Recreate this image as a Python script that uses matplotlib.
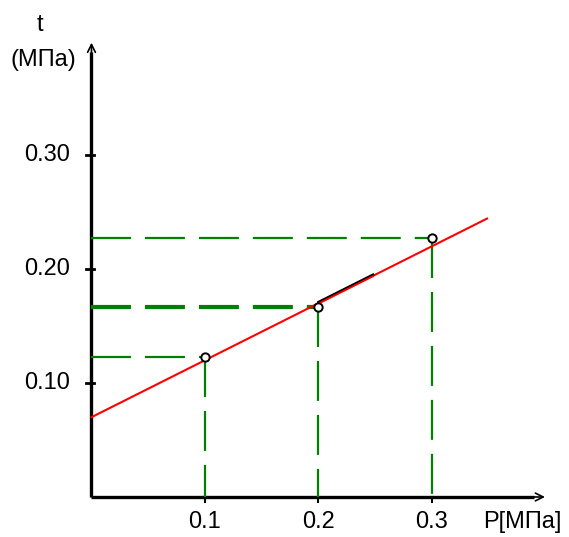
import numpy as np
import matplotlib
matplotlib.use('Agg')
import matplotlib.pyplot as plt

# данные
p_points = [0.1, 0.2, 0.3]
t_points = [0.123, 0.167, 0.227]
fit_b = 0.07
fit_k = 0.5
fit_p = [0.0, 0.3485]
black_p = [0.2, 0.248]
x_ticks = [0.1, 0.2, 0.3]
x_labels = ['0.1', '0.2', '0.3']
y_ticks = [0.10, 0.20, 0.30]
y_labels = ['0.10', '0.20', '0.30']
thick_idx = 1

GREEN = '#008000'
plt.rcParams['font.family'] = ['Liberation Sans', 'DejaVu Sans']

fig = plt.figure(figsize=(5.69, 5.37), dpi=100)
ax = fig.add_axes([0, 0, 1, 1])
ax.set_xlim(-0.0806, 0.4207)
ax.set_ylim(-0.0351, 0.436)
ax.axis('off')

# оси со стрелками
ax.plot([0, 0], [0, 0.39], color='black', lw=2.4, solid_capstyle='butt')
ax.plot([0, 0.39], [0, 0], color='black', lw=2.4, solid_capstyle='butt')
ax.annotate('', xy=(0, 0.401), xytext=(0, 0.37),
            arrowprops=dict(arrowstyle='->', color='black', lw=1.2, mutation_scale=14))
ax.annotate('', xy=(0.402, 0), xytext=(0.37, 0),
            arrowprops=dict(arrowstyle='->', color='black', lw=1.2, mutation_scale=14))

# штрихи
for yt, lab in zip(y_ticks, y_labels):
    ax.plot([-0.005, 0.002], [yt, yt], color='black', lw=2)
    ax.text(-0.019, yt, lab, ha='right', va='center', fontsize=17)
for xt, lab in zip(x_ticks, x_labels):
    ax.plot([xt, xt], [-0.004, 0], color='black', lw=1.5)
    ax.text(xt, -0.022, lab, ha='center', va='center', fontsize=17)

# пунктирные проекции
for i, (p, t) in enumerate(zip(p_points, t_points)):
    lw = 3 if i == thick_idx else 1.6
    ax.plot([0, p], [t, t], color=GREEN, lw=lw, dashes=(40 / 1.39 / lw, 14 / 1.39 / lw))
    ax.plot([p, p], [t, 0], color=GREEN, lw=1.6, dashes=(40 / 1.39 / 1.6, 14 / 1.39 / 1.6))

# линия аппроксимации
fp = np.array(fit_p)
ax.plot(fp, fit_b + fit_k * fp, color='red', lw=1.5)
bp = np.array(black_p)
ax.plot(bp, fit_b + fit_k * bp + 0.001, color='black', lw=1.8, zorder=2)
ax.plot(bp, fit_b + fit_k * bp - 0.0003, color='red', lw=1.3, zorder=3)

ax.plot(p_points, t_points, 'o', ms=6, mfc='white', mec='black', mew=1.4, zorder=4)

ax.text(-0.045, 0.414, 't', ha='center', va='center', fontsize=17)
ax.text(-0.042, 0.383, '(МПа)', ha='center', va='center', fontsize=17)
ax.text(0.345, -0.022, 'P[МПа]', ha='left', va='center', fontsize=17)

fig.savefig('out.png', dpi=100)
